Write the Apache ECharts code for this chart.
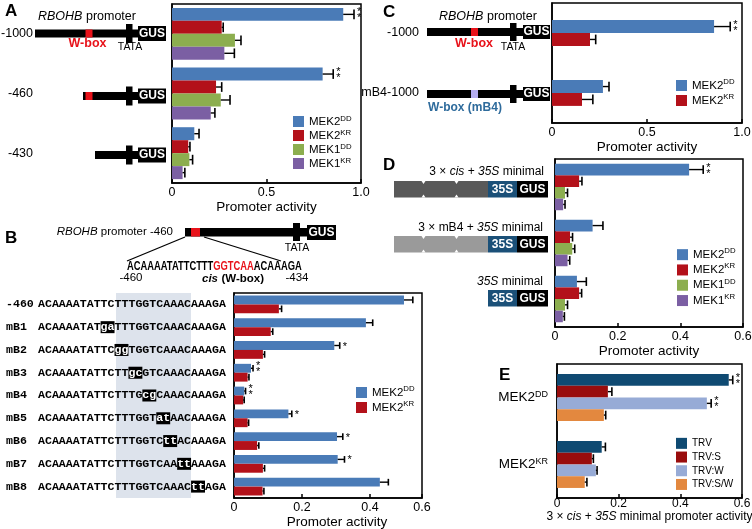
<!DOCTYPE html>
<html><head><meta charset="utf-8">
<script src="https://cdn.jsdelivr.net/npm/echarts@6/dist/echarts.min.js"></script>
<style>html,body{margin:0;padding:0;background:#fff}#c{width:752px;height:529px}</style>
</head><body><div id="c"></div>
<script>
// ---------- DATA ----------
// Panel A
const catsA = ['-1000', '-460', '-430'];
const a_MEK2DD = [0.906, 0.797, 0.118];
const a_MEK2DD_sd = [0.057, 0.056, 0.025];
const a_MEK2DD_sig = ['**', '**', ''];
const a_MEK2KR = [0.263, 0.233, 0.086];
const a_MEK2KR_sd = [0.008, 0.03, 0.009];
const a_MEK1DD = [0.333, 0.258, 0.092];
const a_MEK1DD_sd = [0.032, 0.049, 0.017];
const a_MEK1KR = [0.277, 0.205, 0.056];
const a_MEK1KR_sd = [0.053, 0.022, 0.012];
// Panel B
const catsB = ['-460', 'mB1', 'mB2', 'mB3', 'mB4', 'mB5', 'mB6', 'mB7', 'mB8'];
const seqWT = 'ACAAAATATTCTTTGGTCAAACAAAGA';
const mutPos = [-1, 9, 11, 13, 15, 17, 18, 20, 22];
const mutSeq = ['', 'ga', 'gg', 'gc', 'cg', 'at', 'tt', 'tt', 'tt'];
const b_MEK2DD = [0.50, 0.388, 0.295, 0.05, 0.03, 0.16, 0.303, 0.305, 0.429];
const b_MEK2DD_sd = [0.026, 0.02, 0.016, 0.006, 0.004, 0.01, 0.017, 0.02, 0.025];
const b_MEK2DD_sig = ['', '', '*', '**', '**', '*', '*', '*', ''];
const b_MEK2KR = [0.132, 0.108, 0.085, 0.04, 0.027, 0.04, 0.068, 0.085, 0.084];
const b_MEK2KR_sd = [0.008, 0.006, 0.005, 0.004, 0.003, 0.003, 0.005, 0.005, 0.004];
// Panel C
const catsC = ['-1000', 'mB4-1000'];
const c_MEK2DD = [0.853, 0.268];
const c_MEK2DD_sd = [0.085, 0.032];
const c_MEK2DD_sig = ['**', ''];
const c_MEK2KR = [0.20, 0.158];
const c_MEK2KR_sd = [0.03, 0.057];
// Panel D
const catsD = ['3xcis', '3xmB4', '35S'];
const d_MEK2DD = [0.428, 0.12, 0.07];
const d_MEK2DD_sd = [0.045, 0.033, 0.03];
const d_MEK2DD_sig = ['**', '', ''];
const d_MEK2KR = [0.077, 0.048, 0.077];
const d_MEK2KR_sd = [0.009, 0.008, 0.008];
const d_MEK1DD = [0.032, 0.055, 0.032];
const d_MEK1DD_sd = [0.008, 0.008, 0.008];
const d_MEK1KR = [0.026, 0.04, 0.025];
const d_MEK1KR_sd = [0.006, 0.007, 0.005];
// Panel E
const catsE = ['MEK2DD', 'MEK2KR'];
const e_TRV = [0.557, 0.145];
const e_TRV_sd = [0.013, 0.012];
const e_TRV_sig = ['**', ''];
const e_TRVS = [0.165, 0.113];
const e_TRVS_sd = [0.013, 0.005];
const e_TRVW = [0.486, 0.126];
const e_TRVW_sd = [0.014, 0.004];
const e_TRVW_sig = ['**', ''];
const e_TRVSW = [0.152, 0.09];
const e_TRVSW_sd = [0.006, 0.007];

// ---------- STYLE ----------
const SANS = '"Liberation Sans", Arial, sans-serif';
const MONO = '"Liberation Mono", "Courier New", monospace';
const BLUE = '#4a7bb7', RED = '#b3111a', GREEN = '#8cae4f', PURPLE = '#7b5fa3';
const NAVY = '#0f4a72', DRED = '#990d0d', LBLUE = '#97abd6', ORANGE = '#e3883f';
const WRED = '#e8121a';

const chart = echarts.init(document.getElementById('c'), null, {renderer: 'canvas'});

const grids = [], xAxes = [], yAxes = [], series = [];
function fmt(v) { return v === 0 ? '0' : v.toFixed(1); }

function errRender(k, n, gap, sig) {
  return function (params, api) {
    const c = api.value(1);
    const p0 = api.coord([api.value(0), c]);
    const p1 = api.coord([api.value(2), c]);
    const band = api.size([0, 1])[1];
    const gw = band * (1 - gap), bw = gw / n;
    const y = p0[1] - gw / 2 + (k + 0.5) * bw;
    const h = bw * 0.75;
    const ch = [
      {type: 'line', shape: {x1: p0[0], y1: y, x2: p1[0], y2: y}, style: {stroke: '#000', lineWidth: 1.4}},
      {type: 'line', shape: {x1: p1[0], y1: y - h / 2, x2: p1[0], y2: y + h / 2}, style: {stroke: '#000', lineWidth: 1.6}}
    ];
    const s = sig && sig[params.dataIndex];
    if (s) ch.push({type: 'text', x: p1[0] + 3, y: y + 1,
      style: {text: s === '**' ? '*\n*' : '*', fill: '#000', fontSize: 11, lineHeight: 6,
        fontFamily: SANS, align: 'left', verticalAlign: 'middle'}});
    return {type: 'group', children: ch};
  };
}

function panel(g, xc, yc, sets, gap) {
  const gi = grids.length;
  grids.push(Object.assign({show: true, borderColor: '#000', borderWidth: 1.5,
    containLabel: false, outerBoundsMode: 'none'}, g));
  xAxes.push(Object.assign({
    gridIndex: gi, type: 'value', min: 0,
    axisLine: {show: true, onZero: false, lineStyle: {color: '#000', width: 1.5}},
    axisTick: {show: true, inside: true, length: 4, lineStyle: {color: '#000', width: 1.5}},
    splitLine: {show: false},
    axisLabel: {color: '#000', fontSize: 12.5, fontFamily: SANS, margin: 3, formatter: fmt},
    name: 'Promoter activity', nameLocation: 'middle', nameGap: 17,
    nameTextStyle: {color: '#000', fontSize: 13.5, fontFamily: SANS}
  }, xc));
  yAxes.push(Object.assign({
    gridIndex: gi, type: 'category', inverse: true,
    axisLine: {show: true, lineStyle: {color: '#000', width: 1.5}},
    axisTick: {show: false}
  }, yc));
  sets.forEach((s, k) => {
    series.push({type: 'bar', name: s.name, xAxisIndex: gi, yAxisIndex: gi, data: s.data,
      barGap: '0%', barCategoryGap: (gap * 100) + '%', itemStyle: {color: s.color}, z: 2, silent: true});
    series.push({type: 'custom', xAxisIndex: gi, yAxisIndex: gi, z: 3, silent: true, clip: false,
      data: s.data.map((v, i) => [v, i, v + s.sd[i]]), encode: {x: [0, 2], y: 1},
      renderItem: errRender(k, sets.length, gap, s.sig)});
  });
}

// Panel A
panel({left: 172, top: 4, width: 189, height: 179},
  {max: 1.0, interval: 0.5},
  {data: catsA, axisLabel: {interval: 0, margin: 139, color: '#000', fontSize: 12.5, fontFamily: SANS}},
  [{name: 'MEK2DD', data: a_MEK2DD, sd: a_MEK2DD_sd, sig: a_MEK2DD_sig, color: BLUE},
   {name: 'MEK2KR', data: a_MEK2KR, sd: a_MEK2KR_sd, color: RED},
   {name: 'MEK1DD', data: a_MEK1DD, sd: a_MEK1DD_sd, color: GREEN},
   {name: 'MEK1KR', data: a_MEK1KR, sd: a_MEK1KR_sd, color: PURPLE}], 0.13);

// Panel B
const monoS = {fontFamily: MONO, fontWeight: 'bold', fontSize: 11.6, color: '#000'};
panel({left: 234, top: 293, width: 188, height: 205},
  {max: 0.553, interval: 0.2, axisLabel: {color: '#000', fontSize: 12.5, fontFamily: SANS, margin: 3, formatter: fmt},
   nameTextStyle: {color: '#000', fontSize: 13.5, fontFamily: SANS, padding: [0, 0, 0, 18]}},
  {data: catsB, axisLabel: {interval: 0, margin: 228, align: 'left',
    formatter: function (v, i) {
      if (mutPos[i] < 0) return '{l|' + v + '}{q|' + seqWT + '}';
      const p = mutPos[i];
      return '{l|' + v + '}{q|' + seqWT.slice(0, p) + '}{m|' + mutSeq[i] + '}{q|' + seqWT.slice(p + 2) + '}';
    },
    rich: {l: Object.assign({width: 32}, monoS), q: monoS,
      m: Object.assign({}, monoS, {color: '#fff', backgroundColor: '#000', lineHeight: 12})}}},
  [{name: 'MEK2DD', data: b_MEK2DD, sd: b_MEK2DD_sd, sig: b_MEK2DD_sig, color: BLUE},
   {name: 'MEK2KR', data: b_MEK2KR, sd: b_MEK2KR_sd, color: RED}], 0.22);

// Panel C
panel({left: 552, top: 3, width: 190, height: 120},
  {max: 1.0, interval: 0.5, nameGap: 13},
  {data: catsC, axisLabel: {interval: 0, margin: 133, color: '#000', fontSize: 12.5, fontFamily: SANS}},
  [{name: 'MEK2DD', data: c_MEK2DD, sd: c_MEK2DD_sd, sig: c_MEK2DD_sig, color: BLUE},
   {name: 'MEK2KR', data: c_MEK2KR, sd: c_MEK2KR_sd, color: RED}], 0.57);

// Panel D
panel({left: 555, top: 159, width: 188, height: 168},
  {max: 0.6, interval: 0.2, nameGap: 16},
  {data: catsD, axisLabel: {show: false}},
  [{name: 'MEK2DD', data: d_MEK2DD, sd: d_MEK2DD_sd, sig: d_MEK2DD_sig, color: BLUE},
   {name: 'MEK2KR', data: d_MEK2KR, sd: d_MEK2KR_sd, color: RED},
   {name: 'MEK1DD', data: d_MEK1DD, sd: d_MEK1DD_sd, color: GREEN},
   {name: 'MEK1KR', data: d_MEK1KR, sd: d_MEK1KR_sd, color: PURPLE}], 0.17);

// Panel E
panel({left: 557, top: 364, width: 185, height: 134},
  {max: 0.6, interval: 0.2, nameGap: 11,
   axisLabel: {color: '#000', fontSize: 12, fontFamily: SANS, margin: 0, formatter: fmt},
   name: '3 \u00d7 {i|cis} + {i|35S} minimal promoter activity',
   nameTextStyle: {color: '#000', fontSize: 12, fontFamily: SANS, rich: {i: {fontStyle: 'italic', fontSize: 12, fontFamily: SANS, color: '#000'}}}},
  {data: catsE, axisLabel: {interval: 0, margin: 9, color: '#000', fontSize: 13.5, lineHeight: 15, fontFamily: SANS,
    formatter: v => v.replace(/(DD|KR)$/, '{s|$1}'),
    rich: {s: {fontSize: 9, lineHeight: 9, verticalAlign: 'top', fontFamily: SANS, color: '#000'}}}},
  [{name: 'TRV', data: e_TRV, sd: e_TRV_sd, sig: e_TRV_sig, color: NAVY},
   {name: 'TRV:S', data: e_TRVS, sd: e_TRVS_sd, color: DRED},
   {name: 'TRV:W', data: e_TRVW, sd: e_TRVW_sd, sig: e_TRVW_sig, color: LBLUE},
   {name: 'TRV:S/W', data: e_TRVSW, sd: e_TRVSW_sd, color: ORANGE}], 0.30);

function legend(left, top, names, fs, lh) {
  return {left, top, orient: 'vertical', padding: 0, itemGap: 0, itemWidth: 11, itemHeight: 11,
    icon: 'rect', selectedMode: false, data: names,
    formatter: n => n.replace(/^(MEK\d)(DD|KR)$/, '$1{s|$2}'),
    textStyle: {color: '#000', fontSize: fs, fontFamily: SANS, lineHeight: lh,
      rich: {s: {fontSize: fs * 0.68, lineHeight: 8, verticalAlign: 'top', fontFamily: SANS, color: '#000'}}}};
}
const legends = [
  legend(293, 114.5, ['MEK2DD', 'MEK2KR', 'MEK1DD', 'MEK1KR'], 11.5, 14),
  legend(356, 385, ['MEK2DD', 'MEK2KR'], 11.5, 15),
  legend(676, 78, ['MEK2DD', 'MEK2KR'], 11.5, 15),
  legend(677, 247, ['MEK2DD', 'MEK2KR', 'MEK1DD', 'MEK1KR'], 11.5, 15.3),
  legend(676, 436.5, ['TRV', 'TRV:S', 'TRV:W', 'TRV:S/W'], 10, 13.7)
];

// ---------- SCHEMATICS (graphic) ----------
const G = [];
function R(x, y, w, h, fill, z) { G.push({type: 'rect', z: z == null ? 10 : z, shape: {x, y, width: w, height: h}, style: {fill}}); }
function T(x, y, text, o) {
  G.push({type: 'text', z: 11, x, y, scaleX: (o && o.sx) || 1,
    style: Object.assign({text, fill: '#000', fontSize: 12.5, fontFamily: SANS, align: 'left', verticalAlign: 'middle'}, o || {})});
}
function L(x1, y1, x2, y2, w) { G.push({type: 'line', z: 10, shape: {x1, y1, x2, y2}, style: {stroke: '#000', lineWidth: w || 1.3}}); }
function P(pts, fill) { G.push({type: 'polygon', z: 12, shape: {points: pts}, style: {fill}}); }
const richI = {i: {fontStyle: 'italic', fontFamily: SANS}};

// panel letters
T(5, 11, 'A', {fontSize: 17, fontWeight: 'bold'});
T(5, 238, 'B', {fontSize: 17, fontWeight: 'bold'});
T(383, 12, 'C', {fontSize: 17, fontWeight: 'bold'});
T(383, 165, 'D', {fontSize: 17, fontWeight: 'bold'});
T(499, 375, 'E', {fontSize: 17, fontWeight: 'bold'});

// Panel A constructs
function consA(y, xs, wbox) {
  R(xs, y - 4, 138 - xs, 8, '#000');
  if (wbox) R(85.5, y - 4, 7, 8, WRED);
  R(126, y - 9.5, 6.5, 19, '#000');
  R(138, y - 7.5, 28, 15, '#000');
  T(152, y, 'GUS', {fill: '#fff', fontWeight: 'bold', align: 'center', fontSize: 12});
}
T(38, 17, '{i|RBOHB} promoter', {fontSize: 12.5, rich: {i: {fontStyle: 'italic', fontSize: 12.5, fontFamily: SANS}}});
consA(33.5, 35, true);
consA(96, 83, true);
consA(155, 95, false);
T(87.5, 44, 'W-box', {fill: WRED, fontWeight: 'bold', align: 'center', fontSize: 12.5});
T(130, 47, 'TATA', {align: 'center', fontSize: 10.5});

// Panel B top construct
T(173, 232, '{i|RBOHB} promoter -460', {align: 'right', fontSize: 11.5, rich: {i: {fontStyle: 'italic', fontSize: 11.5, fontFamily: SANS}}});
R(185, 228, 122, 8.5, '#000');
R(191, 228, 9, 8.5, WRED);
R(293, 223, 7, 18, '#000');
R(307, 225, 29, 15, '#000');
T(321.5, 232.5, 'GUS', {fill: '#fff', fontWeight: 'bold', align: 'center', fontSize: 12});
T(297, 248, 'TATA', {align: 'center', fontSize: 10.5});
L(185, 237, 127, 261);
L(204, 237, 281, 261);
T(127, 267, '{b|ACAAAATATTCTTT}{r|GGTCAA}{b|ACAAAGA}', {sx: 0.78, rich: {
  b: {fontWeight: 'bold', fontSize: 12, fontFamily: SANS, fill: '#000', color: '#000'},
  r: {fontWeight: 'bold', fontSize: 12, fontFamily: SANS, fill: WRED, color: WRED}}});
T(131, 278, '-460', {align: 'center', fontSize: 11.5});
T(297, 278, '-434', {align: 'center', fontSize: 11.5});
T(233, 279, '{c|cis} {r|(W-box)}', {align: 'center', rich: {
  c: {fontWeight: 'bold', fontStyle: 'italic', fontSize: 11.5, fontFamily: SANS, color: '#000'},
  r: {fontWeight: 'bold', fontSize: 11.5, fontFamily: SANS, color: WRED}}});
// shaded column behind sequences
R(116, 293, 75, 205, '#dde3ec', -1);

// Panel C constructs
function consC(y, wcol) {
  R(427, y - 4, 96, 8, '#000');
  R(471, y - 4, 7, 8, wcol);
  R(510, y - 9, 6.5, 18, '#000');
  R(523, y - 7, 27, 14, '#000');
  T(536.5, y, 'GUS', {fill: '#fff', fontWeight: 'bold', align: 'center', fontSize: 12});
}
T(439, 17, '{i|RBOHB} promoter', {fontSize: 12.5, rich: {i: {fontStyle: 'italic', fontSize: 12.5, fontFamily: SANS}}});
consC(32, WRED);
consC(94, '#b3acef');
T(474, 44, 'W-box', {fill: WRED, fontWeight: 'bold', align: 'center', fontSize: 12.5});
T(513, 47, 'TATA', {align: 'center', fontSize: 10.5});
T(465, 108, 'W-box (mB4)', {fill: '#2e6b9c', fontWeight: 'bold', align: 'center', fontSize: 12});

// Panel D constructs
function cisBoxes(y, col) {
  R(394, y, 94, 16.5, col);
  [423.5, 456.5].forEach(x => {
    P([[x - 2, y], [x + 2, y], [x, y + 3]], '#fff');
    P([[x - 2, y + 16.5], [x + 2, y + 16.5], [x, y + 13.5]], '#fff');
  });
}
function minBoxes(y) {
  R(488, y, 29, 16.5, '#1b5078');
  R(517, y, 31, 16.5, '#000');
  T(502.5, y + 8.5, '35S', {fill: '#fff', fontWeight: 'bold', align: 'center', fontSize: 12});
  T(532.5, y + 8.5, 'GUS', {fill: '#fff', fontWeight: 'bold', align: 'center', fontSize: 12});
}
const richD = {i: {fontStyle: 'italic', fontSize: 12, fontFamily: SANS}};
T(544, 172, '3 \u00d7 {i|cis} + {i|35S} minimal', {align: 'right', fontSize: 12, rich: richD});
cisBoxes(181, '#595959'); minBoxes(181);
T(543, 228, '3 \u00d7 mB4 + {i|35S} minimal', {align: 'right', fontSize: 12, rich: richD});
cisBoxes(236, '#9a9a9a'); minBoxes(236);
T(543, 282, '{i|35S} minimal', {align: 'right', fontSize: 12, rich: richD});
minBoxes(290);

chart.setOption({
  animation: false,
  backgroundColor: '#fff',
  grid: grids, xAxis: xAxes, yAxis: yAxes, series: series,
  legend: legends,
  graphic: {elements: G}
});
</script>
</body></html>
